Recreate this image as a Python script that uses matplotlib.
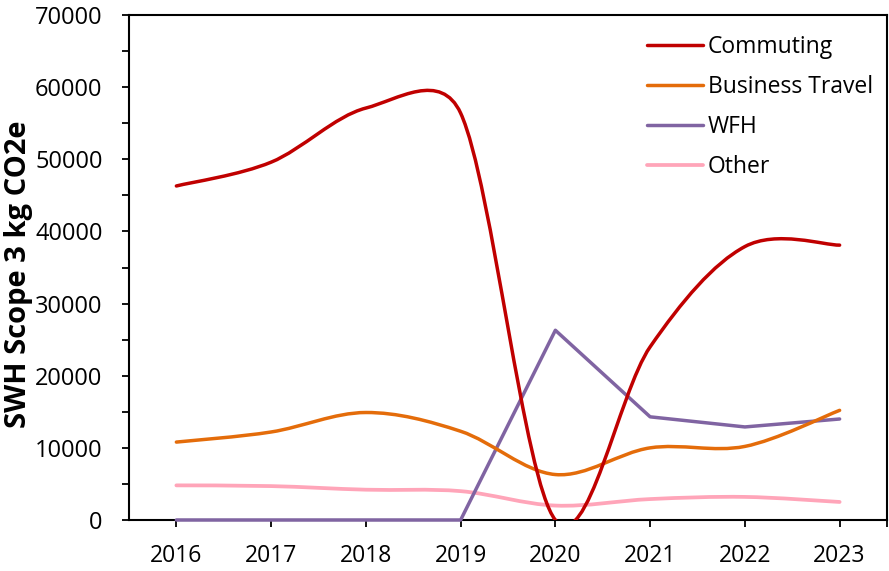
import numpy as np
import matplotlib
matplotlib.use("Agg")
import matplotlib.pyplot as plt
from matplotlib.path import Path
from matplotlib.patches import PathPatch
from matplotlib.lines import Line2D
from matplotlib.ticker import MultipleLocator

years = [2016, 2017, 2018, 2019, 2020, 2021, 2022, 2023]
commuting = [46300, 49600, 57100, 56400, 0, 24000, 37900, 38100]
business_travel = [10800, 12200, 14900, 12300, 6300, 10000, 10200, 15200]
wfh = [0, 0, 0, 0, 26300, 14300, 12900, 14000]
other = [4800, 4700, 4200, 4000, 2000, 2900, 3200, 2500]

plt.rcParams['font.family'] = ['Open Sans', 'DejaVu Sans']

fig = plt.figure(figsize=(8.89, 5.71), dpi=100)
ax = fig.add_axes([129/889, 1-520/571, (887-129)/889, (520-15)/571])
ax.set_xlim(2015.5, 2023.5)
ax.set_ylim(0, 70000)


def excel_smooth_path(xs, ys):
    # Excel-style smoothed line: Bezier segments computed in screen space,
    # control arms limited to half the segment length.
    data = np.column_stack([np.asarray(xs, float), np.asarray(ys, float)])
    pts = ax.transData.transform(data)
    n = len(pts)
    verts = [pts[0]]
    codes = [Path.MOVETO]
    for i in range(n - 1):
        p0 = pts[i - 1] if i > 0 else pts[i]
        p1 = pts[i]
        p2 = pts[i + 1]
        p3 = pts[i + 2] if i + 2 < n else pts[i + 1]
        d12 = np.linalg.norm(p2 - p1)
        d02 = np.linalg.norm(p2 - p0)
        d13 = np.linalg.norm(p3 - p1)
        f1 = 1 / 6.0
        f2 = 1 / 6.0
        if d02 > 0 and d02 / 6.0 >= d12 / 2.0:
            f1 = d12 / (2.0 * d02)
        if d13 > 0 and d13 / 6.0 >= d12 / 2.0:
            f2 = d12 / (2.0 * d13)
        c1 = p1 + (p2 - p0) * f1
        c2 = p2 - (p3 - p1) * f2
        verts += [c1, c2, p2]
        codes += [Path.CURVE4] * 3
    verts = ax.transData.inverted().transform(np.array(verts))
    return Path(verts, codes)


series = [
    ("Commuting", commuting, "#C00000", 2.5, True),
    ("Business Travel", business_travel, "#E46C0A", 2.5, True),
    ("WFH", wfh, "#8064A2", 2.5, False),
    ("Other", other, "#FFA5B9", 2.7, True),
]

for k, (name, vals, col, lw, smooth) in enumerate(reversed(series)):
    if smooth:
        patch = PathPatch(excel_smooth_path(years, vals), facecolor='none', edgecolor=col,
                          lw=lw, capstyle='round', joinstyle='round', zorder=3 + k * 0.01)
        ax.add_patch(patch)
    else:
        ax.plot(years, vals, color=col, lw=lw, solid_capstyle='round', solid_joinstyle='round',
                clip_on=False, zorder=3 + k * 0.01)

handles = [Line2D([0], [0], color=col, lw=lw, label=name, solid_capstyle='round')
           for name, vals, col, lw, smooth in series]

ax.set_xticks(years + [2023.5])
ax.set_xticklabels([str(y) for y in years] + [""])
ax.yaxis.set_major_locator(MultipleLocator(10000))
ax.yaxis.set_minor_locator(MultipleLocator(5000))
ax.tick_params(axis='y', which='major', length=5, width=1.3, direction='out', labelsize=17, pad=14)
ax.tick_params(axis='y', which='minor', length=5, width=1.3, direction='out')
ax.tick_params(axis='x', which='major', length=5, width=1.3, direction='out', labelsize=16.5, pad=12)
for s in ax.spines.values():
    s.set_linewidth(1.5)
    s.set_color('black')
    s.set_zorder(2.5)

ax.set_ylabel("SWH Scope 3 kg CO2e", fontsize=21, fontweight='bold')
ax.yaxis.set_label_coords((33 - 129) / 758, (520 - 274) / 505)

leg = ax.legend(handles=handles, loc='upper left',
                bbox_to_anchor=((631 - 129) / 758, 1.0 - 4 / 505),
                frameon=False, fontsize=16.5, handlelength=2.45, handletextpad=0.2,
                labelspacing=0.7, borderaxespad=0.3)

fig.savefig("out.png", dpi=100)
